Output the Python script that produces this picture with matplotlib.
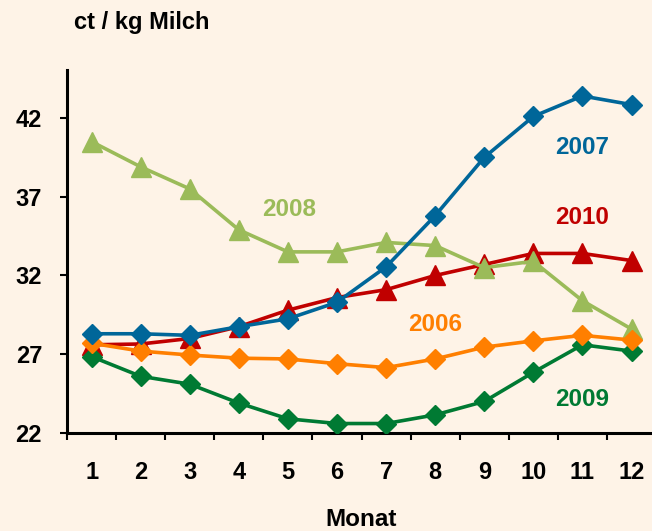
"""
Milchpreis (ct / kg Milch) nach Monat, 2006-2010.
"""
import matplotlib.pyplot as plt

plt.rcParams["font.family"] = ["Liberation Sans", "DejaVu Sans"]
plt.rcParams["font.weight"] = "bold"

MONTHS = list(range(1, 13))
P2006 = [27.7, 27.2, 26.95, 26.75, 26.7, 26.4, 26.15, 26.7, 27.45, 27.85, 28.2, 27.9]
P2007 = [28.3, 28.3, 28.2, 28.75, 29.25, 30.3, 32.55, 35.8, 39.5, 42.1, 43.4, 42.85]
P2008 = [40.5, 38.9, 37.5, 34.9, 33.5, 33.5, 34.1, 33.9, 32.5, 32.9, 30.4, 28.6]
P2009 = [26.85, 25.6, 25.1, 23.9, 22.9, 22.6, 22.6, 23.15, 24.0, 25.85, 27.6, 27.2]
P2010 = [27.6, 27.65, 28.0, 28.75, 29.8, 30.6, 31.1, 32.0, 32.7, 33.4, 33.4, 32.95]

YTICKS = [22, 27, 32, 37, 42]

BG = "#fef3e7"
C06, C07, C08, C09, C10 = "#ff7f00", "#006699", "#9bbb59", "#007a33", "#c00000"

fig = plt.figure(figsize=(6.52, 5.31), dpi=100, facecolor=BG)
ax = fig.add_axes([0.1028, 0.1846, 0.9034, 0.6836], facecolor=BG)

# bottom -> top drawing order as in the original
ax.plot(MONTHS, P2010, color=C10, lw=2.6, marker="^", ms=14, zorder=2)
ax.plot(MONTHS, P2008, color=C08, lw=2.6, marker="^", ms=14, zorder=3)
ax.plot(MONTHS, P2009, color=C09, lw=2.6, marker="D", ms=10.5, zorder=4)
ax.plot(MONTHS, P2006, color=C06, lw=2.6, marker="D", ms=10.5, zorder=5)
ax.plot(MONTHS, P2007, color=C07, lw=2.6, marker="D", ms=10.5, zorder=6)

lab = dict(fontsize=17.5, fontweight="bold", ha="center", va="center")
ax.text(11.0, 40.1, "2007", color=C07, **lab)
ax.text(11.0, 35.7, "2010", color=C10, **lab)
ax.text(5.03, 36.2, "2008", color=C08, **lab)
ax.text(7.99, 28.9, "2006", color=C06, **lab)
ax.text(11.0, 24.1, "2009", color=C09, **lab)

ax.set_xlim(0.5, 12.5)
ax.set_ylim(22, 45.05)
ax.set_yticks(YTICKS)
ax.set_xticks(MONTHS)
ax.set_xticks([m + 0.5 for m in range(0, 12)], minor=True)
ax.tick_params(axis="x", which="major", length=0, pad=20, labelsize=17)
ax.tick_params(axis="x", which="minor", length=5, width=1.5, direction="out")
ax.tick_params(axis="y", length=5, width=1.5, direction="out", pad=13, labelsize=17)
for lbl in ax.get_xticklabels() + ax.get_yticklabels():
    lbl.set_fontweight("bold")

for s in ("top", "right"):
    ax.spines[s].set_visible(False)
for s in ("left", "bottom"):
    ax.spines[s].set_linewidth(2.2)
    ax.spines[s].set_color("black")

fig.text(361 / 652, 1 - 519 / 531, "Monat", fontsize=17.5, fontweight="bold",
         ha="center", va="center")
fig.text(74 / 652, 1 - 22 / 531, "ct / kg Milch", fontsize=17, fontweight="bold",
         ha="left", va="center")

fig.savefig("out.png", dpi=100, facecolor=BG)
